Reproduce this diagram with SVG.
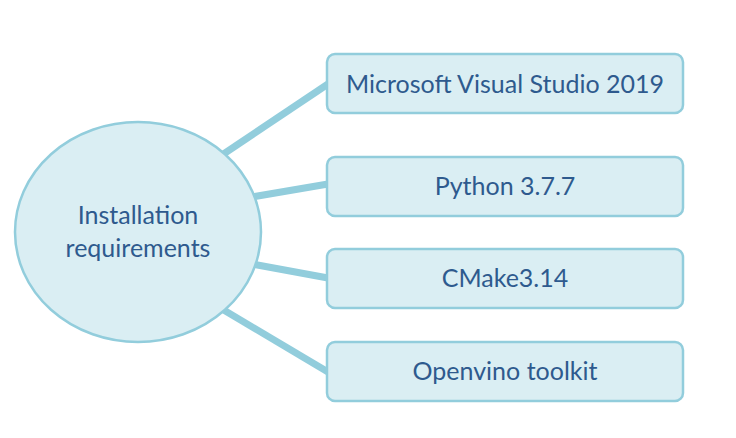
<svg xmlns="http://www.w3.org/2000/svg" width="736" height="438" viewBox="0 0 736 438">
<style>
.shape{fill:#DAEEF3;stroke:#92CDDC;stroke-width:2.5}
.conn{stroke:#92CDDC;stroke-width:7;stroke-linecap:butt;fill:none}
.t{font-family:Lato,"Liberation Sans",sans-serif;font-size:25px;fill:#2E5A8E;text-anchor:middle}
</style>
<rect width="736" height="438" fill="#FFFFFF"/>
<g id="connectors">
<line class="conn" x1="222" y1="155" x2="328" y2="84"/>
<line class="conn" x1="252" y1="197" x2="328" y2="184"/>
<line class="conn" x1="252" y1="264" x2="328" y2="278"/>
<line class="conn" x1="222" y1="309" x2="328" y2="372"/>
</g>
<g id="center">
<ellipse class="shape" cx="138" cy="232" rx="123" ry="110"/>
<text class="t" x="138" y="224">Installation</text>
<text class="t" x="138" y="257">requirements</text>
</g>
<g id="n1">
<rect class="shape" x="327" y="54" width="356" height="59" rx="8"/>
<text class="t" x="505" y="93">Microsoft Visual Studio 2019</text>
</g>
<g id="n2">
<rect class="shape" x="327" y="157" width="356" height="59" rx="8"/>
<text class="t" x="505" y="195">Python 3.7.7</text>
</g>
<g id="n3">
<rect class="shape" x="327" y="249" width="356" height="59" rx="8"/>
<text class="t" x="505" y="287">CMake3.14</text>
</g>
<g id="n4">
<rect class="shape" x="327" y="342" width="356" height="59" rx="8"/>
<text class="t" x="505" y="380">Openvino toolkit</text>
</g>
</svg>
